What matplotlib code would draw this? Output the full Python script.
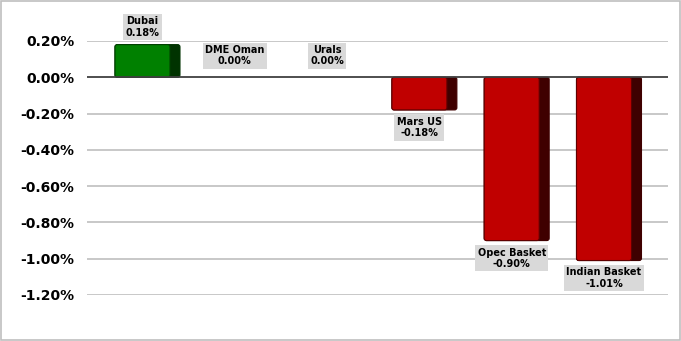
import matplotlib
matplotlib.use("Agg")
import matplotlib.pyplot as plt
from matplotlib.patches import Rectangle, FancyBboxPatch

categories = ["Dubai", "DME Oman", "Urals", "Mars US", "Opec Basket", "Indian Basket"]
values = [0.18, 0.00, 0.00, -0.18, -0.90, -1.01]
yticks = [0.2, 0.0, -0.2, -0.4, -0.6, -0.8, -1.0, -1.2]

fig = plt.figure(figsize=(6.81, 3.41), dpi=100)
fig.patch.set_facecolor("white")
fig.add_artist(Rectangle((0.001, 0.002), 0.997, 0.995, transform=fig.transFigure,
                         fill=False, edgecolor="#BFBFBF", linewidth=1.2))
ax = fig.add_axes([0.1278, 0.1349, 0.8532, 0.7449])
ax.set_xlim(-0.655, 5.64)
ax.set_ylim(-1.2, 0.2)

for y in yticks:
    if y != 0:
        ax.axhline(y, color="#BFBFBF", linewidth=1.2, zorder=0)
ax.axhline(0, color="#404040", linewidth=1.3, zorder=3)

front_w = 0.596
side_w = 0.108
total = front_w + side_w
aspect = 92.3 / 181.5
rad = 0.025
for i, (cat, v) in enumerate(zip(categories, values)):
    pos = v >= 0
    fc = "#008000" if pos else "#C00000"
    sc = "#003300" if pos else "#3F0000"
    ec = "#004000" if pos else "#600000"
    left = i - total / 2
    lx = left + front_w / 2
    if v != 0:
        y0 = min(0, v)
        h = abs(v)
        ax.add_patch(FancyBboxPatch((left, y0), total, h,
                                    boxstyle=f"round,pad=0,rounding_size={rad}",
                                    mutation_aspect=aspect, fc=sc, ec=sc,
                                    linewidth=0.8, zorder=2))
        ax.add_patch(FancyBboxPatch((left, y0), front_w, h,
                                    boxstyle=f"round,pad=0,rounding_size={rad}",
                                    mutation_aspect=aspect, fc=fc, ec=ec,
                                    linewidth=0.8, zorder=2))
    txt = f"{cat}\n{v:.2f}%"
    if v > 0:
        off, va = (0, 5), "bottom"
    elif v == 0:
        off, va = (0, 8), "bottom"
    else:
        off, va = (0, -5), "top"
    ax.annotate(txt, (lx, v), xytext=off, textcoords="offset points",
                ha="center", va=va, fontsize=7, fontweight="bold",
                linespacing=1.15, annotation_clip=False,
                bbox=dict(boxstyle="square,pad=0.25", fc="#D9D9D9", ec="none"))

ax.set_yticks(yticks)
ax.set_yticklabels([f"{y:.2f}%" for y in yticks], fontsize=10, fontweight="bold")
ax.tick_params(axis="y", length=0, pad=9)
ax.set_xticks([])
for s in ax.spines.values():
    s.set_visible(False)

fig.savefig("out.png", dpi=100)
